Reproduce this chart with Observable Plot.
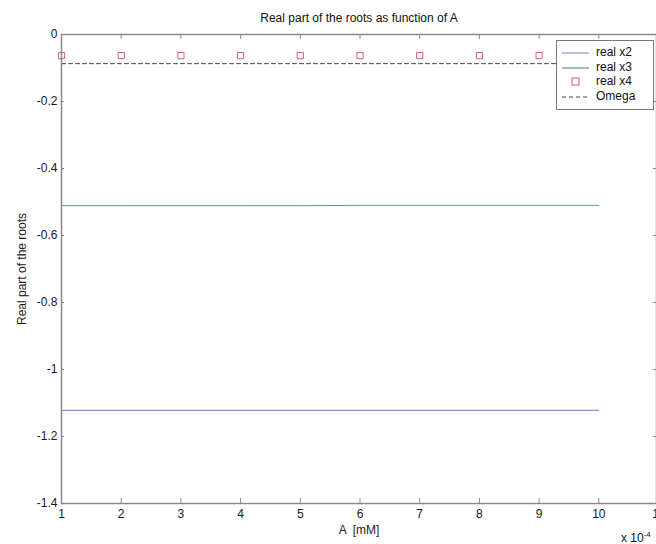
<!DOCTYPE html>
<html><head><meta charset="utf-8">
<script src="https://cdn.jsdelivr.net/npm/d3@7"></script>
<script src="https://cdn.jsdelivr.net/npm/@observablehq/plot@0.6"></script>
<style>
body{margin:0;overflow:hidden;background:#fff;font-family:"Liberation Sans",Arial,sans-serif;}
#wrap{position:relative;width:656px;height:544px;overflow:hidden;}
#legend{position:absolute;left:556px;top:40px;width:96px;height:68px;border:1px solid #777;background:#fff;font-size:12px;color:#111;}
#legend .row{position:absolute;left:0;height:15px;}
#mult{position:absolute;left:621px;top:530px;font-size:12px;color:#111;white-space:nowrap;}
</style></head>
<body><div id="wrap"><div id="chart"></div>
<div id="legend"></div>
<div id="mult">x 10<sup style="font-size:8px;vertical-align:5px">-4</sup></div>
</div>
<script>
const aValues = [1,2,3,4,5,6,7,8,9,10];
const realX2 = [-1.122,-1.122,-1.122,-1.122,-1.122,-1.122,-1.122,-1.122,-1.122,-1.122];
const realX3 = [-0.511,-0.511,-0.511,-0.511,-0.511,-0.510,-0.510,-0.510,-0.510,-0.510];
const realX4 = [-0.063,-0.063,-0.063,-0.063,-0.063,-0.063,-0.063,-0.063,-0.063,-0.063];
const omega = [-0.087,-0.087,-0.087,-0.087,-0.087,-0.087,-0.087,-0.087,-0.087,-0.087];
const xTicks = [1,2,3,4,5,6,7,8,9,10,11];
const yTicks = [0,-0.2,-0.4,-0.6,-0.8,-1,-1.2,-1.4];
const seriesNames = ["real x2","real x3","real x4","Omega"];
const colors = {"real x2":"#8c8ce0","real x3":"#5f9a6a","real x4":"#d0607e","Omega":"#444"};

const W = 656, H = 544, mL = 61, mR = 0, mT = 34, mB = 41;
const plotH = H - mT - mB, plotW = 658 - mL;
const tickLen = 5;
const rows = (ys)=> aValues.map((a,i)=>({a, v: ys[i]}));
const sqRows = rows(realX4).slice(0,9);
const axisColor = "#888";
const fmt = d => String(d);
const chart = Plot.plot({
  width: W, height: H,
  marginLeft: mL, marginRight: mR, marginTop: mT, marginBottom: mB,
  style: {fontFamily: '"Liberation Sans",Arial,sans-serif', fontSize: "12px", color: "#1a1a1a", overflow: "hidden"},
  x: {domain: [1, 11], range: [mL, 658]},
  y: {domain: [-1.4, 0]},
  marks: [
    Plot.line(rows(realX2), {x: "a", y: "v", stroke: colors["real x2"], strokeWidth: 1.2}),
    Plot.line(rows(realX3), {x: "a", y: "v", stroke: colors["real x3"], strokeWidth: 1}),
    Plot.line(rows(omega), {x: "a", y: "v", stroke: colors["Omega"], strokeWidth: 1, strokeDasharray: "4,3"}),
    Plot.dot(sqRows, {x: "a", y: "v", symbol: "square", r: 3.5, stroke: colors["real x4"], fill: "none", strokeWidth: 1}),
    // inward ticks on all four sides
    Plot.ruleX(xTicks, {x: d => d, insetTop: plotH - tickLen, stroke: axisColor}),
    Plot.ruleX(xTicks, {x: d => d, insetBottom: plotH - tickLen, stroke: axisColor}),
    Plot.ruleY(yTicks, {y: d => d, insetRight: plotW - tickLen, stroke: axisColor}),
    Plot.ruleY(yTicks, {y: d => d, insetLeft: plotW - tickLen, stroke: axisColor}),
    Plot.axisX({ticks: xTicks, tickSize: 0, tickPadding: 6, tickFormat: fmt, label: "A  [mM]", labelAnchor: "center", labelOffset: 30, labelArrow: "none"}),
    Plot.axisY({ticks: yTicks, tickSize: 0, tickPadding: 4, tickFormat: fmt, label: "Real part of the roots", labelAnchor: "center", labelOffset: 44, labelArrow: "none"}),
    Plot.frame({stroke: axisColor, strokeWidth: 1.5}),
    Plot.text(["Real part of the roots as function of A"], {frameAnchor: "top", dy: -21, fontSize: 12, fill: "#111"})
  ]
});
document.getElementById("chart").appendChild(chart);

// legend
const lg = document.getElementById("legend");
seriesNames.forEach((name, i) => {
  const row = document.createElement("div");
  row.className = "row";
  row.style.top = (4 + i * 14.5) + "px";
  let sym;
  if (name === "real x4") sym = `<rect x="15" y="4" width="7" height="7" fill="none" stroke="${colors[name]}"/>`;
  else sym = `<line x1="5" x2="32" y1="8" y2="8" stroke="${colors[name]}" stroke-width="1.2" ${name === "Omega" ? 'stroke-dasharray="4,3"' : ''}/>`;
  row.innerHTML = `<svg width="36" height="15" style="vertical-align:top">${sym}</svg><span style="position:absolute;left:39px;top:0px;line-height:15px;white-space:nowrap">${name}</span>`;
  lg.appendChild(row);
});
</script></body></html>
